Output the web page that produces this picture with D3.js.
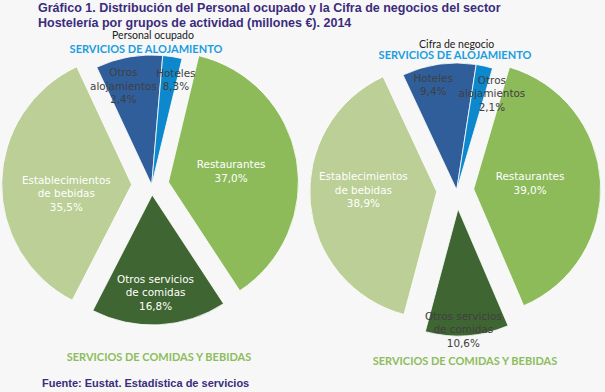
<!DOCTYPE html>
<html>
<head>
<meta charset="utf-8">
<script src="https://cdn.jsdelivr.net/npm/d3@7"></script>
<style>
   html, body { margin: 0; padding: 0; background: #f7f7f7; }
   svg { display: block; }
</style>
</head>
<body>
<svg id="chart" width="605" height="392"></svg>
<script>
// categories as drawn, in slice order (clockwise from the first slice)
const categories = [ 'Hoteles', 'Otros alojamientos', 'Restaurantes', 'Otros servicios de comidas', 'Establecimientos de bebidas' ];
const labelLines = [ [ 'Hoteles' ], [ 'Otros', 'alojamientos' ], [ 'Restaurantes' ], [ 'Otros servicios', 'de comidas' ], [ 'Establecimientos', 'de bebidas' ] ];
// % of total
const personalValues = [ 8.3, 2.4, 37.0, 16.8, 35.5 ];
const negocioValues = [ 9.4, 2.1, 39.0, 10.6, 38.9 ];
const sliceColors = [ '#2f5e9b', '#0d88cd', '#8dbb5a', '#3f6532', '#bbcf96' ];

const titleLines = [
   'Gráfico 1. Distribución del Personal ocupado y la Cifra de negocios del sector',
   'Hostelería por grupos de actividad (millones €). 2014'
];

const W = 605, H = 392;
const svg = d3.select( '#chart' );
svg.append( 'rect' ).attr( 'width', W ).attr( 'height', H ).attr( 'fill', '#f7f7f7' );

const rad = deg => deg * Math.PI / 180;
const fmt = v => d3.format( '.1f' )( v ).replace( '.', ',' ) + '%';

// the pies start with the first slice at 335 degrees
const pie = d3.pie().sort( null ).startAngle( rad( -25 ) ).endAngle( rad( 335 ) );

const charts = [
   {
      values: personalValues, heading: 'Personal ocupado',
      cx: 151.7, cy: 185, r: 130,
      explode: [ 0, 0, 17, 10, 20 ],
      // label placement: angle shift (deg) from slice middle, distance as fraction of radius
      labelShift: [ 23, -25.2, 0, 1, -6.7 ],
      labelDist: [ 0.83, 0.79, 0.62, 0.83, 0.66 ],
      labelDark: [ true, true, false, false, false ],
      headingX: 153, headingY: 35.5, aloY: 49.5, aloX: 146, comX: 159, comY: 357
   },
   {
      values: negocioValues, heading: 'Cifra de negocio',
      cx: 456.7, cy: 190, r: 127,
      explode: [ 0, 0, 17, 19, 20 ],
      labelShift: [ -4.5, 7.4, -1.8, 1.4, 5 ],
      labelDist: [ 0.85, 0.81, 0.58, 1.10, 0.735 ],
      labelDark: [ true, true, false, true, false ],
      headingX: 456.7, headingY: 44, aloY: 55.5, aloX: 455, comX: 465, comY: 361
   }
];

charts.forEach( chart => {
   const arcs = pie( chart.values );
   const arc = d3.arc().innerRadius( 0 ).outerRadius( chart.r );
   const g = svg.append( 'g' ).attr( 'transform', `translate(${chart.cx},${chart.cy})` );

   g.selectAll( 'path' )
      .data( arcs )
      .join( 'path' )
      .attr( 'd', arc )
      .attr( 'fill', ( d, i ) => sliceColors[ i ] )
      .attr( 'stroke', '#ffffff' )
      .attr( 'stroke-width', 0.8 )
      .attr( 'transform', ( d, i ) => {
         const mid = ( d.startAngle + d.endAngle ) / 2;
         const e = chart.explode[ i ];
         return `translate(${e * Math.sin( mid )},${-e * Math.cos( mid )})`;
      } );

   const lh = 13.5;
   g.selectAll( 'text.lbl' )
      .data( arcs )
      .join( 'text' )
      .attr( 'class', 'lbl' )
      .attr( 'font-family', '"DejaVu Sans", Verdana, sans-serif' )
      .attr( 'font-size', 10.4 )
      .attr( 'text-anchor', 'middle' )
      .attr( 'fill', ( d, i ) => chart.labelDark[ i ] ? '#404040' : '#ffffff' )
      .each( function( d, i ) {
         const mid = ( d.startAngle + d.endAngle ) / 2 + rad( chart.labelShift[ i ] );
         const dist = chart.labelDist[ i ] * chart.r;
         const x = dist * Math.sin( mid );
         const y = -dist * Math.cos( mid );
         const lines = labelLines[ i ].concat( fmt( chart.values[ i ] ) );
         const y0 = y - ( lines.length - 1 ) * lh / 2;
         d3.select( this ).selectAll( 'tspan' )
            .data( lines )
            .join( 'tspan' )
            .attr( 'x', x )
            .attr( 'y', ( t, k ) => y0 + k * lh )
            .attr( 'dy', '0.35em' )
            .text( t => t );
      } );

   svg.append( 'text' )
      .attr( 'x', chart.headingX ).attr( 'y', chart.headingY )
      .attr( 'dy', '0.35em' )
      .attr( 'text-anchor', 'middle' )
      .attr( 'font-family', 'Lato, "Open Sans", sans-serif' )
      .attr( 'font-size', 10.5 )
      .attr( 'fill', '#202020' )
      .text( chart.heading );

   svg.append( 'text' )
      .attr( 'x', chart.aloX ).attr( 'y', chart.aloY )
      .attr( 'dy', '0.35em' )
      .attr( 'text-anchor', 'middle' )
      .attr( 'font-family', 'Lato, "Open Sans", sans-serif' )
      .attr( 'font-weight', 'bold' )
      .attr( 'font-size', 11 )
      .attr( 'fill', '#1b9de0' )
      .text( 'SERVICIOS DE ALOJAMIENTO' );

   svg.append( 'text' )
      .attr( 'x', chart.comX ).attr( 'y', chart.comY )
      .attr( 'dy', '0.35em' )
      .attr( 'text-anchor', 'middle' )
      .attr( 'font-family', 'Lato, "Open Sans", sans-serif' )
      .attr( 'font-weight', 'bold' )
      .attr( 'font-size', 11 )
      .attr( 'fill', '#8dbd5c' )
      .text( 'SERVICIOS DE COMIDAS Y BEBIDAS' );
} );

svg.selectAll( 'text.title' )
   .data( titleLines )
   .join( 'text' )
   .attr( 'class', 'title' )
   .attr( 'x', 38 )
   .attr( 'y', ( d, i ) => 12 + i * 14.5 )
   .attr( 'font-family', '"Liberation Sans", Arial, sans-serif' )
   .attr( 'font-weight', 'bold' )
   .attr( 'font-size', 12.5 )
   .attr( 'fill', '#3b2c7c' )
   .text( d => d );

svg.append( 'text' )
   .attr( 'x', 42 ).attr( 'y', 387 )
   .attr( 'font-family', '"Liberation Sans", Arial, sans-serif' )
   .attr( 'font-weight', 'bold' )
   .attr( 'font-size', 11 )
   .attr( 'fill', '#3b2c7c' )
   .text( 'Fuente: Eustat. Estadística de servicios' );
</script>
</body>
</html>
